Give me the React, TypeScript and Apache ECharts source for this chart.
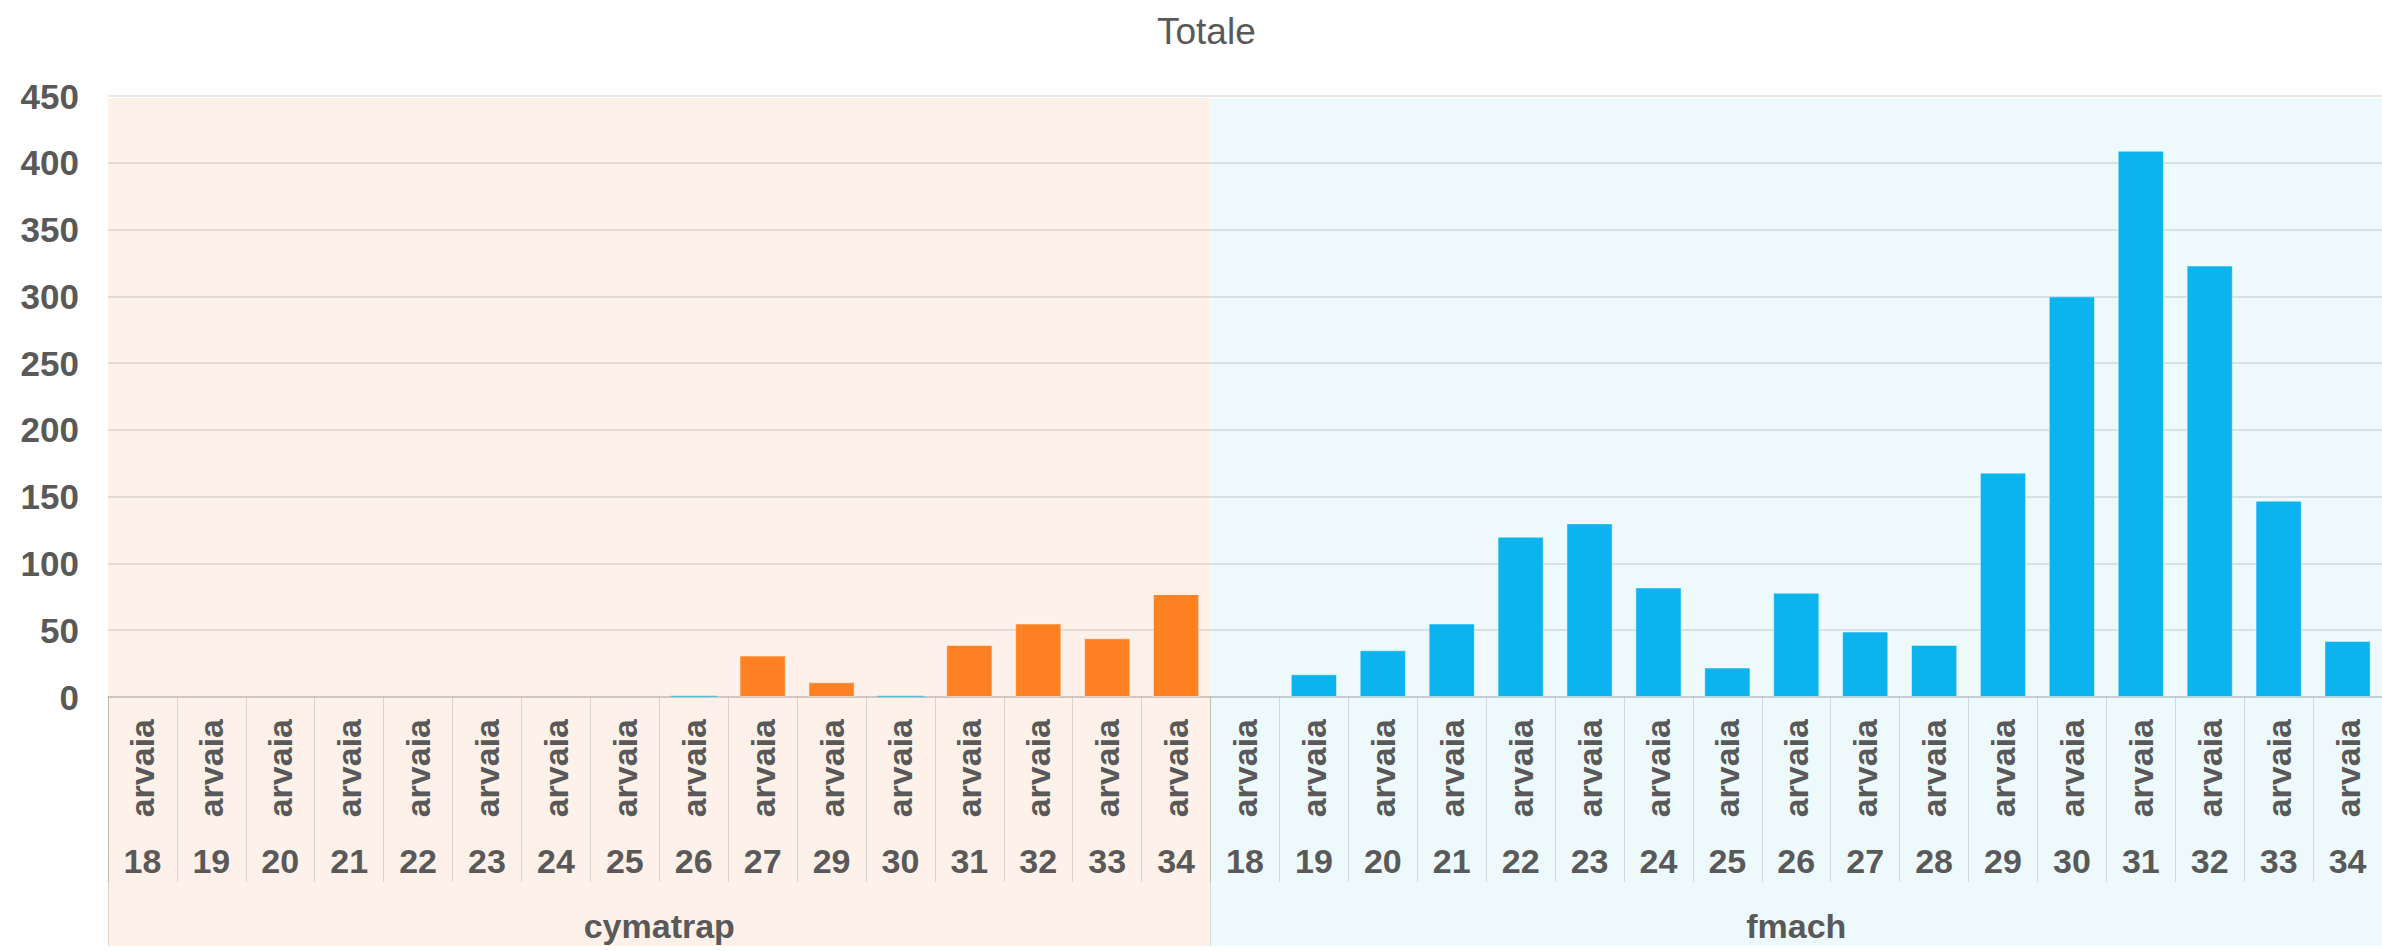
import React, { useEffect, useRef } from "react";
import * as echarts from "echarts";

const TITLE = "Totale";
const groupNames = ["cymatrap", "fmach"];
const locationName = "arvaia";
const cymatrapWeeks = ["18", "19", "20", "21", "22", "23", "24", "25", "26", "27", "29", "30", "31", "32", "33", "34"];
const fmachWeeks = ["18", "19", "20", "21", "22", "23", "24", "25", "26", "27", "28", "29", "30", "31", "32", "33", "34"];
// orange bars (cymatrap)
const cymatrapValues = [0, 0, 0, 0, 0, 0, 0, 0, 0, 31, 11, 0, 39, 55, 44, 77];
// tiny blue bars inside the cymatrap block
const cymatrapTraceValues = [0, 0, 0, 0, 0, 0, 0, 0, 1, 0, 0, 1, 0, 0, 0, 0];
// blue bars (fmach)
const fmachValues = [0, 17, 35, 55, 120, 130, 82, 22, 78, 49, 39, 168, 300, 409, 323, 147, 42];
const yMin = 0;
const yMax = 450;
const yStep = 50;

const groupColors = ["#FDF1E9", "#EEF9FB"];
const orange = "#FF8121";
const blue = "#0BB3EF";
const traceBlue = "#5BB9DC";
const textColor = "#595959";
const lineColor = "rgba(0,0,0,0.12)";
const FONT = "Liberation Sans";

export default function App() {
  const ref = useRef<HTMLDivElement>(null);

  useEffect(() => {
    if (!ref.current) return;
    const chart = echarts.init(ref.current, undefined, { renderer: "svg" });

    const groups = [
      { name: groupNames[0], weeks: cymatrapWeeks },
      { name: groupNames[1], weeks: fmachWeeks },
    ];
    const keys: string[] = [];
    const spans: { name: string; start: number; end: number; idx: number }[] = [];
    groups.forEach((g, gi) => {
      const start = keys.length;
      g.weeks.forEach((w) => keys.push(`${g.name}|${locationName}|${w}`));
      spans.push({ name: g.name, start, end: keys.length, idx: gi });
    });
    const total = keys.length;
    const nz = (v: number) => (v ? v : "-");

    const orangeData = [...cymatrapValues.map(nz), ...fmachWeeks.map(() => "-")];
    const traceData = [...cymatrapTraceValues.map(nz), ...fmachWeeks.map(() => "-")];
    const blueData = [...cymatrapWeeks.map(() => "-"), ...fmachValues.map(nz)];

    const boundaries = [0, ...spans.map((s) => s.end)];
    const centers = spans.map((s) => (s.start + s.end) / 2);

    const catLabel = {
      interval: 0,
      color: textColor,
      fontFamily: FONT,
      fontWeight: "bold" as const,
      fontSize: 34,
    };

    const barCommon = {
      type: "bar" as const,
      xAxisIndex: 0,
      yAxisIndex: 0,
      barWidth: "67%",
      barGap: "-100%",
    };

    chart.setOption({
      animation: false,
      backgroundColor: "#ffffff",
      title: {
        text: TITLE,
        left: 1152,
        top: 8,
        textStyle: { fontFamily: FONT, fontSize: 37, fontWeight: "normal", color: textColor },
      },
      grid: [
        { left: 108, right: 0, top: 96, bottom: 254 },
        { left: 108, right: 0, top: 98, bottom: 5 },
      ],
      xAxis: [
        {
          type: "category",
          gridIndex: 0,
          data: keys,
          position: "bottom",
          axisLine: { show: true, lineStyle: { color: lineColor, width: 1.5 } },
          axisTick: { show: true, interval: 0, length: 185, lineStyle: { color: lineColor } },
          axisLabel: { ...catLabel, margin: 147, formatter: (v: string) => v.split("|")[2] },
          splitLine: { show: false },
        },
        {
          type: "category",
          gridIndex: 0,
          data: keys,
          position: "bottom",
          axisLine: { show: false },
          axisTick: { show: false },
          axisLabel: { ...catLabel, rotate: 90, margin: 22, formatter: (v: string) => v.split("|")[1] },
          splitLine: { show: false },
        },
        {
          type: "value",
          gridIndex: 0,
          min: 0,
          max: total,
          position: "bottom",
          axisLine: { show: false },
          splitLine: { show: false },
          axisTick: { show: true, customValues: boundaries, length: 249, lineStyle: { color: lineColor } },
          axisLabel: {
            ...catLabel,
            customValues: centers,
            margin: 212,
            formatter: (v: number) => {
              const s = spans.find((sp) => Math.abs((sp.start + sp.end) / 2 - v) < 1e-6);
              return s ? s.name : "";
            },
          },
        },
        { type: "value", gridIndex: 1, min: 0, max: total, show: false },
      ],
      yAxis: [
        {
          type: "value",
          gridIndex: 0,
          min: yMin,
          max: yMax,
          interval: yStep,
          axisLine: { show: false },
          axisTick: { show: false },
          axisLabel: { color: textColor, fontFamily: FONT, fontWeight: "bold", fontSize: 35, margin: 29 },
          splitLine: { lineStyle: { color: lineColor, width: 1.5 } },
        },
        { type: "value", gridIndex: 1, min: 0, max: 1, show: false },
      ],
      series: [
        {
          type: "custom",
          xAxisIndex: 3,
          yAxisIndex: 1,
          silent: true,
          z: -10,
          data: spans.map((s) => [s.start, s.end, s.idx]),
          renderItem: (params: any, api: any) => {
            const a = api.coord([api.value(0), 1]);
            const b = api.coord([api.value(1), 0]);
            return {
              type: "rect",
              shape: { x: a[0], y: a[1], width: b[0] - a[0], height: b[1] - a[1] },
              style: { fill: groupColors[api.value(2)] },
            };
          },
        },
        {
          ...barCommon,
          name: groupNames[0],
          data: orangeData,
          itemStyle: { color: orange, borderColor: "rgba(255,255,255,0.45)", borderWidth: 1 },
        },
        {
          ...barCommon,
          name: groupNames[0] + " trace",
          data: traceData,
          itemStyle: { color: traceBlue, borderWidth: 0 },
        },
        {
          ...barCommon,
          name: groupNames[1],
          data: blueData,
          itemStyle: { color: blue, borderColor: "rgba(255,255,255,0.45)", borderWidth: 1 },
        },
      ],
    });

    return () => chart.dispose();
  }, []);

  return (
    <div
      ref={ref}
      style={{ position: "fixed", left: 0, top: 0, width: 2382, height: 951, background: "#fff" }}
    />
  );
}
